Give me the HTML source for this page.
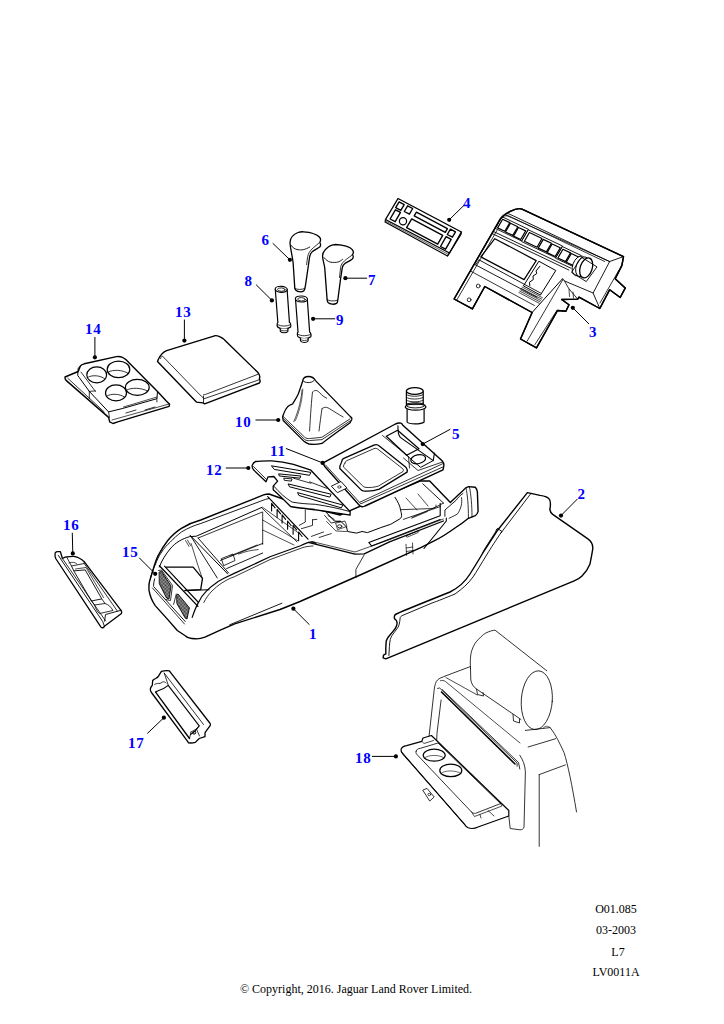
<!DOCTYPE html>
<html><head><meta charset="utf-8"><style>
html,body{margin:0;padding:0;background:#fff;width:724px;height:1024px;overflow:hidden}
svg{position:absolute;left:0;top:0}
.n{font-family:"Liberation Serif",serif;font-weight:bold;font-size:15px;fill:#0000ff;letter-spacing:0.8px}
.f{font-family:"Liberation Serif",serif;font-size:12px;fill:#000}
</style></head><body>
<svg width="724" height="1024" viewBox="0 0 724 1024" stroke-linejoin="round" stroke-linecap="round">
<defs><pattern id="hatch" width="1.4" height="1.4" patternUnits="userSpaceOnUse"><rect width="1.4" height="1.4" fill="#aaa"/><rect width="0.7" height="0.7" fill="#333"/><rect x="0.7" y="0.7" width="0.7" height="0.7" fill="#333"/></pattern></defs>
<path d="M398.0,198.5 L461.4,232.0 L449.5,253.0 L385.5,219.5 Z" fill="#fff" stroke="#000" stroke-width="1.4"/>
<path d="M385.5,219.5 L385.0,222.0 L447.5,256.0 L449.5,253.0" fill="none" stroke="#000" stroke-width="1.1"/>
<path d="M385.3,220.8 L448.5,254.5" fill="none" stroke="#000" stroke-width="0.6"/>
<path d="M461.4,232.0 L461.0,234.5 L447.5,256.0" fill="none" stroke="#000" stroke-width="1.1"/>
<path d="M399.1,201.9 L404.2,204.6 L400.8,210.4 L395.7,207.7 Z" fill="none" stroke="#000" stroke-width="1.35"/>
<path d="M407.6,205.8 L412.7,208.5 L409.4,214.2 L404.3,211.5 Z" fill="none" stroke="#000" stroke-width="1.35"/>
<path d="M395.4,209.8 L400.5,212.4 L395.2,221.7 L390.1,219.0 Z" fill="none" stroke="#000" stroke-width="1.35"/>
<ellipse cx="403.0" cy="221.2" rx="3.6" ry="3.6" transform="rotate(0 403.0 221.2)" fill="none" stroke="#000" stroke-width="1.2"/>
<path d="M416.4,212.1 L447.4,228.6 L445.3,232.4 L414.2,215.9 Z" fill="none" stroke="#000" stroke-width="1.35"/>
<path d="M411.7,218.9 L442.7,235.4 L437.7,244.2 L406.6,227.7 Z" fill="none" stroke="#000" stroke-width="1.35"/>
<path d="M450.4,229.1 L455.5,231.8 L452.4,237.2 L447.3,234.5 Z" fill="none" stroke="#000" stroke-width="1.35"/>
<path d="M446.1,236.6 L451.2,239.3 L445.6,249.2 L440.5,246.5 Z" fill="none" stroke="#000" stroke-width="1.35"/>
<path d="M500.25,219.2 C503.25,214 516.6,206.6 522,209.2 L623.5,256.6 L621.9,265.4 L615.2,278.7 L625.2,288.1 L620.2,297.5 L609.7,289.7 L599.8,308.5 L579,297.2 L577.7,299.1 L561.6,299.5 L569,304.7 L565.9,311.2 L557.5,310.5 L536.5,347.9 L520.5,339 L532.1,312.5 L484.8,286.5 L472.4,308.9 L454.1,299 Z" fill="#fff" stroke="#000" stroke-width="1.4"/>
<clipPath id="c1"><path d="M500.25,219.2 C503.25,214 516.6,206.6 522,209.2 L623.5,256.6 L621.9,265.4 L615.2,278.7 L625.2,288.1 L620.2,297.5 L609.7,289.7 L599.8,308.5 L579,297.2 L577.7,299.1 L561.6,299.5 L569,304.7 L565.9,311.2 L557.5,310.5 L536.5,347.9 L520.5,339 L532.1,312.5 L484.8,286.5 L472.4,308.9 L454.1,299 Z"/></clipPath><g clip-path="url(#c1)">
<path d="M492.2,228.1 L499.6,217.3 L503.7,214.2 L508.1,213.6 L513.6,216.0 L609.3,261.5" fill="none" stroke="#000" stroke-width="0.9"/>
<path d="M494.0,229.0 L501.5,218.1 L504.4,216.0 L508.0,215.7 L512.6,217.7 L604.7,261.5" fill="none" stroke="#000" stroke-width="0.8"/>
<path d="M491.4,230.5 L570.9,268.2" fill="none" stroke="#000" stroke-width="0.9"/>
<path d="M489.3,232.2 L568.8,270.0" fill="none" stroke="#000" stroke-width="0.9"/>
<path d="M502.2,216.8 L528.4,229.3 L521.6,241.0 L495.5,228.5 Z" fill="none" stroke="#000" stroke-width="0.9"/>
<path d="M528.6,229.9 L562.5,246.0 L555.7,257.7 L521.8,241.6 Z" fill="none" stroke="#000" stroke-width="0.9"/>
<path d="M562.7,246.7 L581.2,255.5 L574.4,267.1 L555.9,258.4 Z" fill="none" stroke="#000" stroke-width="0.9"/>
<path d="M502.6,219.2 L509.8,222.6 L504.8,231.3 L497.6,227.9 Z" fill="none" stroke="#000" stroke-width="1.2"/>
<path d="M510.5,223.3 L517.8,226.8 L512.8,235.4 L505.5,232.0 Z" fill="none" stroke="#000" stroke-width="1.2"/>
<path d="M518.5,227.5 L525.7,230.9 L520.7,239.5 L513.5,236.1 Z" fill="none" stroke="#000" stroke-width="1.2"/>
<path d="M529.4,232.5 L542.0,238.5 L537.0,247.2 L524.4,241.2 Z" fill="none" stroke="#000" stroke-width="1.2"/>
<path d="M543.2,239.4 L551.4,243.3 L546.4,251.9 L538.2,248.1 Z" fill="none" stroke="#000" stroke-width="1.2"/>
<path d="M552.1,244.0 L560.2,247.8 L555.2,256.5 L547.1,252.6 Z" fill="none" stroke="#000" stroke-width="1.2"/>
<path d="M562.9,249.3 L570.5,252.9 L565.5,261.6 L557.9,258.0 Z" fill="none" stroke="#000" stroke-width="1.2"/>
<path d="M571.3,253.5 L579.0,257.2 L574.0,265.9 L566.3,262.2 Z" fill="none" stroke="#000" stroke-width="1.2"/>
<path d="M494.8,238.7 L536.2,260.6 L524.1,279.6 L480.8,256.9 Z" fill="none" stroke="#000" stroke-width="1.2"/>
<path d="M479.1,259.9 L540.5,293.0" fill="none" stroke="#000" stroke-width="0.9"/>
<path d="M475.6,264.9 L536.9,297.3" fill="none" stroke="#000" stroke-width="0.9"/>
<path d="M479.1,259.9 L475.6,264.9" fill="none" stroke="#000" stroke-width="0.9"/>
<path d="M466.0,268.6 L534.4,305.5" fill="none" stroke="#000" stroke-width="0.8"/>
<path d="M539.2,261.4 L555.8,270.5 L540.4,295.1 L523.8,286.1 Z" fill="none" stroke="#000" stroke-width="1.0"/>
<path d="M539.9,266.2 L536.0,271.0 L536.8,273.5 L533.0,276.1 L533.3,279.6 L529.5,282.2 L529.8,285.7" fill="none" stroke="#000" stroke-width="1.0"/>
<path d="M522.1,287.0 L542.4,297.7" fill="none" stroke="#000" stroke-width="0.7"/>
<path d="M521.3,288.4 L541.6,299.1" fill="none" stroke="#000" stroke-width="0.7"/>
<path d="M520.5,289.8 L540.8,300.5" fill="none" stroke="#000" stroke-width="0.7"/>
<path d="M519.7,291.1 L540.0,301.9" fill="none" stroke="#000" stroke-width="0.7"/>
<path d="M518.9,292.5 L539.2,303.3" fill="none" stroke="#000" stroke-width="0.7"/>
<path d="M497.0,230.4 L457.0,299.7" fill="none" stroke="#000" stroke-width="0.8"/>
<ellipse cx="478.2" cy="286" rx="1.9" ry="1.9" transform="rotate(0 478.2 286)" fill="none" stroke="#000" stroke-width="0.8"/>
<ellipse cx="469.1" cy="299.8" rx="1.9" ry="1.9" transform="rotate(0 469.1 299.8)" fill="none" stroke="#000" stroke-width="0.8"/>
<path d="M532.1,312.5 L562.5,278.8" fill="none" stroke="#000" stroke-width="1.0"/>
<path d="M527.1,341.2 L563.0,279.4" fill="none" stroke="#000" stroke-width="0.8"/>
<path d="M534.9,344.6 L557.0,310.3" fill="none" stroke="#000" stroke-width="0.8"/>
<path d="M562.5,278.8 L564.4,280.9 L593.1,293.0" fill="none" stroke="#000" stroke-width="0.9"/>
<path d="M564.4,280.9 L568.8,288.6 L577.7,299.1" fill="none" stroke="#000" stroke-width="0.8"/>
<path d="M569.0,289.0 L569.5,296.5" fill="none" stroke="#000" stroke-width="0.7"/>
<path d="M573.0,292.0 L573.5,298.0" fill="none" stroke="#000" stroke-width="0.7"/>
<ellipse cx="579" cy="266" rx="6.3" ry="10.3" transform="rotate(20 579 266)" fill="#fff" stroke="#000" stroke-width="0.9"/>
<ellipse cx="582.5" cy="266.8" rx="6.3" ry="10.3" transform="rotate(20 582.5 266.8)" fill="#fff" stroke="#000" stroke-width="0.9"/>
<ellipse cx="586.2" cy="267.9" rx="6" ry="10.3" transform="rotate(18 586.2 267.9)" fill="#fff" stroke="#000" stroke-width="1.3"/>
<path d="M581.8,257.4 L597.0,266.9 L586.2,281.6 L571.9,272.6 Z" fill="none" stroke="#000" stroke-width="0.9"/>
<path d="M623.5,256.6 L609.7,261.5 L593.1,293.0 L599.8,308.5" fill="none" stroke="#000" stroke-width="0.9"/>
<path d="M609.7,261.5 L505.5,215.0" fill="none" stroke="#000" stroke-width="0.8"/>
<path d="M619.0,270.0 L600.0,303.0" fill="none" stroke="#000" stroke-width="0.8"/>
</g>
<path d="M500.25,219.2 C503.25,214 516.6,206.6 522,209.2 L623.5,256.6 L621.9,265.4 L615.2,278.7 L625.2,288.1 L620.2,297.5 L609.7,289.7 L599.8,308.5 L579,297.2 L577.7,299.1 L561.6,299.5 L569,304.7 L565.9,311.2 L557.5,310.5 L536.5,347.9 L520.5,339 L532.1,312.5 L484.8,286.5 L472.4,308.9 L454.1,299 Z" fill="none" stroke="#000" stroke-width="1.4"/>
<path d="M290,242.5 C290,239 292,235 298,232.5 C300,231.8 302,231.7 303.5,231.8 C307,232 311,232.7 313.1,233.5 C316,234.5 318.5,235.8 319.4,237 C320.8,238.5 321,240.5 319.7,242.8 C320.8,243.5 321,245.5 319.7,247 C317,249 314,250 312.5,251.5 C310.5,253 310,255 309.6,257 L305.6,284.6 L304.9,288.1 C304.6,290.5 302.5,291.9 300.7,291.9 C298.5,291.9 296.6,291.2 295.5,290 C294.8,289 294.8,288.5 294.8,288.1 L293.1,262.5 C292.3,256 290.4,249 290,242.5 Z" fill="#fff" stroke="#000" stroke-width="1.3"/>
<path d="M291,245.3 C293,248 295,249.3 298,249.7 C301,250.2 305,250 309.7,247" fill="none" stroke="#000" stroke-width="0.9"/>
<path d="M318.7,243.2 C315,246.5 312,248.5 310.4,250.8 C308.5,253 307.6,256 307.3,259 L306.6,264.6" fill="none" stroke="#000" stroke-width="0.8"/>
<path d="M294.8,288.3 C297,289.8 302,290 304.9,288.3" fill="none" stroke="#000" stroke-width="0.8"/>
<path d="M322.6,256.6 C322.6,253.5 323.5,251.5 324.7,250.4 C327,247.5 330,245.5 333,244.8 C334,244.6 335,244.5 335.7,244.5 C339,244.7 343,245.2 346.1,246.2 C349,247.2 351.3,248.4 352.3,249.7 C353.5,251 353.6,253.2 352.3,254.8 C353.5,255.5 353.6,257.5 352.3,259 C350,261 347,262 345.4,263.1 C343.5,264.5 342.6,266 342.3,267.6 L340.6,278.7 L337.8,300.1 C337.6,302 337.3,303 336.5,303.4 C335,304.2 333.5,304.3 332.3,304.2 C330.5,304 328.8,303.3 328.1,302.5 C327.3,301.5 327.1,300.5 327.1,299.4 L324.7,267.6 C324,263 322.6,259.5 322.6,256.6 Z" fill="#fff" stroke="#000" stroke-width="1.3"/>
<path d="M324,257.6 C326,260 328,261.5 330.2,262.1 C333,262.6 336,262.5 337.8,262.1 C339.5,261.6 341.3,260.5 342.6,259.3" fill="none" stroke="#000" stroke-width="0.9"/>
<path d="M351.6,255.5 C348,258 345,260 342.6,262.8 C341.3,264.5 340.8,266 340.6,267.6 L339.5,277.6" fill="none" stroke="#000" stroke-width="0.8"/>
<path d="M327.2,299.6 C329,301.2 334,301.5 337.6,300.2" fill="none" stroke="#000" stroke-width="0.8"/>
<path d="M275.3,289.3 L277.9,323.3" fill="none" stroke="#000" stroke-width="1.2"/>
<path d="M287.1,289.3 L289.5,323.3" fill="none" stroke="#000" stroke-width="1.2"/>
<ellipse cx="281.2" cy="289.3" rx="6.0" ry="3.0" transform="rotate(3 281.2 289.3)" fill="#fff" stroke="#000" stroke-width="1.2"/>
<ellipse cx="281.3" cy="289.6" rx="3.8" ry="1.7" transform="rotate(3 281.3 289.6)" fill="none" stroke="#000" stroke-width="0.8"/>
<path d="M277.3,323 C277,324.5 277.2,326.5 277.7,327 C280,329.4 288,329.4 290.6,327 C291,326 290.8,324.2 290.2,323" fill="#fff" stroke="#000" stroke-width="1.2"/>
<path d="M277.5,324.5 C281,326.6 287,326.6 290.6,324.5" fill="none" stroke="#000" stroke-width="0.8"/>
<path d="M280.2,328.6 L280.3,331.3 C282,333.2 286.5,333.2 287.9,331.3 L287.9,328.6" fill="#fff" stroke="#000" stroke-width="1.1"/>
<path d="M280.3,330 C282.5,331.2 286,331.2 287.9,330" fill="none" stroke="#000" stroke-width="0.7"/>
<path d="M295.5,299.0 L298.1,333.0" fill="none" stroke="#000" stroke-width="1.2"/>
<path d="M307.3,299.0 L309.7,333.0" fill="none" stroke="#000" stroke-width="1.2"/>
<ellipse cx="301.4" cy="299.0" rx="6.0" ry="3.0" transform="rotate(3 301.4 299.0)" fill="#fff" stroke="#000" stroke-width="1.2"/>
<ellipse cx="301.5" cy="299.3" rx="3.8" ry="1.7" transform="rotate(3 301.5 299.3)" fill="none" stroke="#000" stroke-width="0.8"/>
<path d="M297.5,332.7 C297.2,334.2 297.4,336.2 297.9,336.7 C300.2,339.09999999999997 308.2,339.09999999999997 310.8,336.7 C311.2,335.7 311.0,333.9 310.4,332.7" fill="#fff" stroke="#000" stroke-width="1.2"/>
<path d="M297.7,334.2 C301.2,336.3 307.2,336.3 310.8,334.2" fill="none" stroke="#000" stroke-width="0.8"/>
<path d="M300.4,338.3 L300.5,341.0 C302.2,342.9 306.7,342.9 308.09999999999997,341.0 L308.09999999999997,338.3" fill="#fff" stroke="#000" stroke-width="1.1"/>
<path d="M300.5,339.7 C302.7,340.9 306.2,340.9 308.09999999999997,339.7" fill="none" stroke="#000" stroke-width="0.7"/>
<path d="M157.5,361.5 L158.3,359.5 C160,356 163,352 166.6,350.7 L214.6,335.8 C217,335.2 222,337 224.6,339.9 L257.7,372.3 C259.5,374.5 260.5,376.5 259.4,378.5 L260.2,381.4 L259.4,383 L204.7,403.8 L203,402.9 L196.4,402.1 Z" fill="#fff" stroke="#000" stroke-width="1.4"/>
<path d="M160.5,358.5 C161,357 162,356 162.4,356 L201.4,396.3 L203.5,398" fill="none" stroke="#000" stroke-width="0.8"/>
<path d="M203.5,396 L203.5,402.5" fill="none" stroke="#000" stroke-width="0.8"/>
<path d="M203.5,394.8 C205,394.5 206,394.2 207.2,393.8 L257.7,374.4" fill="none" stroke="#000" stroke-width="0.8"/>
<path d="M203.9,398.8 L259.4,379.7" fill="none" stroke="#000" stroke-width="0.8"/>
<path d="M65,377 L78.2,371.5 L80.4,366 C81,365 82.5,364.3 84.3,363.8 L116.4,356.6 C118.5,356.3 120.5,356.5 121.9,357.2 C123.5,358 125,359 126.3,359.9 L157.5,391.5 L166.3,400.9 L169.6,404.2 L169.1,406.4 L117.7,421.9 L113,423.5 L109.7,421.8 L108.6,417.4 L66.1,380.4 C65.2,379.5 64.8,378.2 65,377 Z" fill="#fff" stroke="#000" stroke-width="1.4"/>
<path d="M80.4,366 L78.2,368.2 L77.7,375.4 L79.3,377.6 L89.3,391.4 L108.6,411.9 L122.1,408.6 L156.9,398.7 L157.5,391.5" fill="none" stroke="#000" stroke-width="1.0"/>
<path d="M67.7,378.2 L104.2,411.9" fill="none" stroke="#000" stroke-width="0.8"/>
<path d="M81,372.1 L95.4,391.4" fill="none" stroke="#000" stroke-width="0.8"/>
<path d="M89.3,391.4 L95.4,390.9" fill="none" stroke="#000" stroke-width="0.8"/>
<path d="M89.3,391.4 L89.3,398.6" fill="none" stroke="#000" stroke-width="0.8"/>
<path d="M108.6,411.9 L109.4,417.5" fill="none" stroke="#000" stroke-width="0.8"/>
<path d="M123.5,407 L157,397" fill="none" stroke="#000" stroke-width="0.7"/>
<path d="M112,420 L169,404" fill="none" stroke="#000" stroke-width="0.7"/>
<path d="M156.9,398.7 L156.9,402" fill="none" stroke="#000" stroke-width="0.8"/>
<path d="M126,413 L136,410 M145,410 L155,407" fill="none" stroke="#000" stroke-width="0.8"/>
<ellipse cx="96.7" cy="374.9" rx="9.9" ry="8.0" transform="rotate(0 96.7 374.9)" fill="none" stroke="#000" stroke-width="1.2"/>
<ellipse cx="118.5" cy="369.4" rx="11.3" ry="8.2" transform="rotate(0 118.5 369.4)" fill="none" stroke="#000" stroke-width="1.2"/>
<ellipse cx="116" cy="392.9" rx="10.5" ry="8.0" transform="rotate(0 116 392.9)" fill="none" stroke="#000" stroke-width="1.2"/>
<ellipse cx="137.3" cy="387.4" rx="11.9" ry="8.0" transform="rotate(0 137.3 387.4)" fill="none" stroke="#000" stroke-width="1.2"/>
<path d="M88.5,377 C92,375 100,375 105,379" fill="none" stroke="#000" stroke-width="0.8"/>
<path d="M108.5,372 C113,369.5 122,369.5 128.5,373.5" fill="none" stroke="#000" stroke-width="0.8"/>
<path d="M107,396 C111,393.5 119,393.5 124.5,397" fill="none" stroke="#000" stroke-width="0.8"/>
<path d="M127,390 C131,387.5 141,387.5 147.5,391" fill="none" stroke="#000" stroke-width="0.8"/>
<path d="M302.6,381.2 C303,378 305.5,376.5 308.5,376.5 C311.5,376.5 314,378 315.5,380.6 L350.1,416.4 C351.8,417.5 352.2,418.5 351.9,419.3 L350.1,422.8 C340,430 330,437 322,443.4 C318,444.3 312,444.5 309,444 C307,443.5 305.5,442.7 304.3,441.6 L283.2,420.5 L282.6,417 C283,415.5 283.3,414.5 283.8,413.4 C285,410 286.5,408 287.9,406.4 C290,404.5 291.5,404.5 292.6,404 C295,400 297,397 298.5,393.5 C300,389 301.5,385 302.6,381.2 Z" fill="#fff" stroke="#000" stroke-width="1.3"/>
<path d="M303.2,381 C305,383 311,383.5 313.7,380.8" fill="none" stroke="#000" stroke-width="0.9"/>
<path d="M283.2,416.5 L304.5,437 C306,438.5 308,438.8 309.5,438.5 C312,438.3 318,437.8 322,437.2 L350.1,418.8" fill="none" stroke="#000" stroke-width="0.8"/>
<path d="M283.4,418.6 L304.4,439.3 C306,440.6 308,440.8 309.5,440.6 L322,439.6 L350.3,420.8" fill="none" stroke="#000" stroke-width="0.8"/>
<path d="M313.7,391.1 C316,389.5 318,391 320,393 C322,395.5 324,397 326.7,398.2" fill="none" stroke="#000" stroke-width="0.8"/>
<path d="M312.5,392 C311.5,400 310.5,415 309.6,431" fill="none" stroke="#000" stroke-width="0.8"/>
<path d="M322,408.7 C324.5,406.5 327,407 330,409 C334,411.5 338,414 343.1,417" fill="none" stroke="#000" stroke-width="0.8"/>
<path d="M322,408.7 C321,415 320,423 319,431" fill="none" stroke="#000" stroke-width="0.8"/>
<path d="M302,390 C301.5,398 299,410 293.8,421.7" fill="none" stroke="#000" stroke-width="0.7"/>
<path d="M302.8,389 C302.5,397 300.5,409 295.5,420.5" fill="none" stroke="#000" stroke-width="0.6"/>
<path d="M195.2,638.8 C190,638.5 187,637.5 185.6,636 L177.3,630.5 L167.6,619.4 L155.2,605.6 C152,601 150,596 149,590.4 C148.8,586 149,583 149.7,580.8 L153.1,569.7 C155,563 156,560 158,555.9 C162,548 165,544 167.6,540.7 C173,534 177,531 181.4,528.3 C190,523 195,521.5 200.8,520 L263.6,494.9 C265.5,494.2 267.5,494 269,494 L300,505 L340,515 L363,505 L420,481 L429.7,481 L450.4,502.5 C455,498 459,494 462.9,490.7 C464.5,488.5 466.5,487 468.4,486.6 L475.3,487.3 C476.5,488.5 477.2,490 477.4,492.1 L478.1,511.4 C477.5,513.5 476.5,515 475.3,515.6 L468.4,518.3 C464,522 460,525 455,528 C448,533 441,537.5 435.1,540.4 C430,543 425,545.5 421.3,547.3 L362.4,574 L300,601.5 L280,609.5 L234.7,623.9 L221.4,629.7 L204.9,637.2 C200,639 197.5,639 195.2,638.8 Z" fill="#fff" stroke="#000" stroke-width="1.4"/>
<path d="M150.5,578 C152,572 154,567 155.2,565 C157,560 159,556 160.7,553.5 C164,548 167,545 170.4,542 C174,538 177,535.5 181.4,532 C188,528 194,525.5 200.8,523.5 L265.4,499.4 L269,498.5" fill="none" stroke="#000" stroke-width="0.9"/>
<path d="M159.3,567 C162,560 166,554 170,549 C176,542 182,539 189.7,536.6 L196.3,536.2 L261.8,507.4" fill="none" stroke="#000" stroke-width="1.0"/>
<path d="M198.1,538 L262.7,511.9 L262.7,544.3" fill="none" stroke="#000" stroke-width="0.8"/>
<path d="M159.4,565.7 L198,606.4" fill="none" stroke="#000" stroke-width="1.3"/>
<path d="M164.5,566.2 L198.5,602.5" fill="none" stroke="#000" stroke-width="1.1"/>
<path d="M154.6,578.8 C154,581 153.6,583.5 153.5,585.7 L153.5,586.4 L185.3,621.6" fill="none" stroke="#000" stroke-width="0.9"/>
<path d="M152.5,588 L184.5,624" fill="none" stroke="#000" stroke-width="0.8"/>
<path d="M159.5,572 L161.5,571.5 L171,586 L169,599 L166.5,598 L159.5,584 Z" fill="url(#hatch)" stroke="#000" stroke-width="0.9"/>
<path d="M177,594.7 L178,594 L189.4,607.8 L187,619 L185.3,618.2 L177,603.7 Z" fill="url(#hatch)" stroke="#000" stroke-width="0.9"/>
<path d="M158.5,570.5 L161.5,570 L172.5,585.5 L170.5,600.5 L165.5,599.5" fill="none" stroke="#000" stroke-width="0.8"/>
<path d="M176.3,594 L173.6,604.4" fill="none" stroke="#000" stroke-width="0.8"/>
<path d="M192.2,617.4 C195,609 197,605 198.8,601.9 C201,597 204,593.5 206.6,590.9 C209,588.5 211.5,586 214.8,584 C217.5,581.8 220.5,580 223.5,578.5 L234.2,573.4 L270,556.8 L300.5,545.8 C304,544 308,542 312.1,541.9 C314,542 315,542.5 316,543.9" fill="none" stroke="#000" stroke-width="1.2"/>
<path d="M203.8,602.5 C206,598 209,594 212.1,590.9 C215,588 218,585.5 221,583.5 C225,581 229,578.5 234.2,576.8 L270,559.6 L301.5,548 C305,546.8 309,546 313,546" fill="none" stroke="#000" stroke-width="0.8"/>
<path d="M364.2,554.9 L355.9,569.4 L355.9,577.5" fill="none" stroke="#000" stroke-width="0.8"/>
<path d="M229.7,624.8 L281.9,603.2" fill="none" stroke="#000" stroke-width="0.9"/>
<path d="M166.2,567.1 L193.1,567.1 L202.5,578.3 L200.7,589.6 L185,590.5" fill="none" stroke="#000" stroke-width="1.3"/>
<path d="M185,590.5 L209,589.8" fill="none" stroke="#000" stroke-width="1.1"/>
<path d="M191.1,536.6 L217.3,578" fill="none" stroke="#000" stroke-width="0.9"/>
<path d="M190,535.2 L227.6,573.8" fill="none" stroke="#000" stroke-width="1.0"/>
<path d="M191.1,543.5 L198,565.6 L202.2,578" fill="none" stroke="#000" stroke-width="0.7"/>
<path d="M185.6,540.5 L189,546.5 M187.5,540 L190.5,545.5" fill="none" stroke="#000" stroke-width="0.7"/>
<path d="M198.1,538 L228.6,573" fill="none" stroke="#000" stroke-width="0.9"/>
<path d="M220.5,560.4 L262.7,543.4" fill="none" stroke="#000" stroke-width="0.9"/>
<path d="M221.7,558.5 L233,554 L235,560.5 L224,565.5 Z" fill="none" stroke="#000" stroke-width="0.8"/>
<path d="M226.6,568.6 L258.1,555 L262.7,553" fill="none" stroke="#000" stroke-width="0.9"/>
<path d="M238.5,554.1 C245,551.5 252,550 258.2,549.6" fill="none" stroke="#000" stroke-width="0.7"/>
<path d="M230,556 L257,545" fill="none" stroke="#000" stroke-width="0.7"/>
<path d="M262.7,520 L297.7,540.7 M262.7,530 L294,545 M262.7,507.4 L300,534" fill="none" stroke="#000" stroke-width="0.7"/>
<path d="M267.7,496.6 L308,539.2" fill="none" stroke="#000" stroke-width="1.2"/>
<path d="M261.6,507.7 L297,541.9" fill="none" stroke="#000" stroke-width="0.8"/>
<path d="M271.6,511 L271.6,503.3 L275.1,507.8" fill="none" stroke="#000" stroke-width="1.1"/>
<path d="M277.1,517.6 L277.1,509.3 L280.6,513.8" fill="none" stroke="#000" stroke-width="1.1"/>
<path d="M282.1,523.1 L282.1,514.9 L285.6,519.4" fill="none" stroke="#000" stroke-width="1.1"/>
<path d="M287.6,529.2 L287.6,521 L291.1,525.5" fill="none" stroke="#000" stroke-width="1.1"/>
<path d="M293.1,534.2 L293.1,525.4 L296.6,529.9" fill="none" stroke="#000" stroke-width="1.1"/>
<path d="M298.6,540.8 L298.6,532 L302.1,536.5" fill="none" stroke="#000" stroke-width="1.1"/>
<path d="M305.3,509.9 L305.3,522 L299.2,525.4" fill="none" stroke="#000" stroke-width="0.8"/>
<path d="M312.5,519.8 L316.9,519.3 M312.5,519.8 L312.5,525.4 L301.4,528.7" fill="none" stroke="#000" stroke-width="0.8"/>
<path d="M311.4,536.4 L323.5,532 M319.1,537.5 L331.2,533.6" fill="none" stroke="#000" stroke-width="0.8"/>
<path d="M324.6,515.4 L331.2,523.1 L340,521" fill="none" stroke="#000" stroke-width="0.8"/>
<path d="M395,497.3 C398,502 400,506 400.5,509.7 C401.5,514 402.5,517 400,518.8 L390.7,524.3 L380.8,527.6 L367.5,532.6 L362,531.5 L356.5,533.1 L347.6,531.5 L346.5,527 L341,521.5 L334.4,521 L325.5,511.6" fill="none" stroke="#000" stroke-width="1.0"/>
<path d="M326.6,521.5 L331,526 L336,531 L346.5,531.5" fill="none" stroke="#000" stroke-width="0.7"/>
<path d="M400.5,509.7 L433,508.5 L443.5,503.1" fill="none" stroke="#000" stroke-width="0.8"/>
<path d="M403.3,519.4 L440.5,506.5" fill="none" stroke="#000" stroke-width="0.8"/>
<path d="M406,498 L417,510 M418,494 L428,506" fill="none" stroke="#000" stroke-width="0.7"/>
<path d="M334.2,519.4 L328,515.5" fill="none" stroke="#000" stroke-width="0.8"/>
<ellipse cx="339.7" cy="526.3" rx="2.2" ry="1.5" transform="rotate(0 339.7 526.3)" fill="none" stroke="#000" stroke-width="0.8"/>
<path d="M336,523 L345,521 L347,526.5 L338,529.5 Z" fill="none" stroke="#000" stroke-width="0.7"/>
<path d="M440.2,503.3 L440.2,515.7 L368.8,542.5 L371.6,545.9 L440.2,519.5" fill="none" stroke="#000" stroke-width="1.1"/>
<path d="M412.2,517.4 L436,506.8 L436,505" fill="none" stroke="#000" stroke-width="0.7"/>
<path d="M411.6,518.2 L427.3,511.6" fill="none" stroke="#000" stroke-width="0.7"/>
<path d="M406.8,535.6 L417.8,530.7 C419,530.5 419,532 418.2,532.5 L407.5,537 C406.2,537.3 405.8,536 406.8,535.6 Z" fill="none" stroke="#000" stroke-width="0.7"/>
<path d="M308.3,542.4 L355,554.2 L364.2,553.8 L389.5,541.8 L443.4,521" fill="none" stroke="#000" stroke-width="1.3"/>
<path d="M312,541.5 L355,552 L389.5,539.7 L443.4,519" fill="none" stroke="#000" stroke-width="0.7"/>
<path d="M424,548.5 L446.3,521 L446.3,518" fill="none" stroke="#000" stroke-width="1.1"/>
<path d="M406,544.3 L406.5,555.3 M412.5,543 L413,554 M406.3,548 L412.7,547 M406.4,551.5 L412.9,550.5" fill="none" stroke="#000" stroke-width="0.7"/>
<path d="M422.8,483.8 L443.5,503.1" fill="none" stroke="#000" stroke-width="0.9"/>
<path d="M462.9,493.5 C460,495.5 458,497.5 456,500.4 L444.9,510 L444.9,516.3" fill="none" stroke="#000" stroke-width="0.9"/>
<path d="M461.5,497.6 C462.5,503 461,509 457.3,514.2 L449.1,518.3" fill="none" stroke="#000" stroke-width="0.8"/>
<path d="M466,488 C467.5,495 468.5,505 468.4,518" fill="none" stroke="#000" stroke-width="0.8"/>
<path d="M469.5,487 C471,495 472,505 472,517" fill="none" stroke="#000" stroke-width="0.8"/>
<path d="M252.2,465.2 C253,463 254,462 255.8,461.5 C260,460.8 265,460.7 271.8,460.8 C280,461.5 287,462.8 293.5,464.4 L310.9,470.2 L350.1,511.6 L350.1,515.2 C340,513.5 320,510 305,508.5 C298,507.8 294,507.3 290.6,506.5 C284,500 278,494 273.2,489.8 L273.2,486.2 L277.6,481.1 L273.9,476.5 L268.1,476.8 L266,481.8 L253.5,469.8 C252.5,468.5 252,467 252.2,465.2 Z" fill="#fff" stroke="#000" stroke-width="1.3"/>
<path d="M253.5,466.5 L266.5,479.5" fill="none" stroke="#000" stroke-width="0.8"/>
<path d="M273.9,486.2 C279,492 285,498 292.1,502.1 C300,503.5 308,504 315.3,504.3 C327,506 339,508.5 350.1,511.6" fill="none" stroke="#000" stroke-width="0.9"/>
<path d="M271.8,465.9 L310.9,472.4 L309.5,475.3 L274.7,469.5 Z" fill="none" stroke="#000" stroke-width="1.0"/>
<path d="M279,473.9 L300.8,476 L300,478.2 L279.7,476 Z" fill="none" stroke="#000" stroke-width="1.0"/>
<path d="M284.1,478.2 L292.1,478.9 L291.3,481.1 L284.8,480.4 Z" fill="none" stroke="#000" stroke-width="0.9"/>
<path d="M293.5,478.2 L310.9,483.3" fill="none" stroke="#000" stroke-width="0.8"/>
<path d="M288.4,484 L331.2,494.2 L329.8,497.1 L289.9,486.9 Z" fill="none" stroke="#000" stroke-width="1.0"/>
<path d="M309.5,481.8 L326.9,488.4" fill="none" stroke="#000" stroke-width="0.8"/>
<path d="M297.9,492.7 L342.8,505 L341.4,507.9 L299.3,495.6 Z" fill="none" stroke="#000" stroke-width="1.0"/>
<path d="M407.1,409.6 L407.1,422 C409,424.5 421,424.5 424.1,422 L424.1,409.6" fill="#fff" stroke="#000" stroke-width="1.2"/>
<ellipse cx="415.6" cy="407" rx="10.3" ry="3.2" transform="rotate(0 415.6 407)" fill="#fff" stroke="#000" stroke-width="1.2"/>
<ellipse cx="415.6" cy="405.3" rx="9.3" ry="2.6" transform="rotate(0 415.6 405.3)" fill="none" stroke="#000" stroke-width="0.9"/>
<path d="M406.4,391 L406.4,404.6 M423.2,391 L423.2,404.6" fill="none" stroke="#000" stroke-width="1.2"/>
<path d="M406.4,394.5 C409,396.9 420,396.9 423.2,394.5" fill="none" stroke="#000" stroke-width="0.8"/>
<path d="M406.4,397.3 C409,399.7 420,399.7 423.2,397.3" fill="none" stroke="#000" stroke-width="0.8"/>
<path d="M406.4,400.1 C409,402.5 420,402.5 423.2,400.1" fill="none" stroke="#000" stroke-width="0.8"/>
<path d="M406.4,402.9 C409,405.29999999999995 420,405.29999999999995 423.2,402.9" fill="none" stroke="#000" stroke-width="0.8"/>
<ellipse cx="414.8" cy="391" rx="8.4" ry="3.4" transform="rotate(0 414.8 391)" fill="#fff" stroke="#000" stroke-width="1.2"/>
<path d="M323.6,462.6 L395.4,424 C397,423.2 399,422.9 400.8,423.1 C401.7,423.4 402.2,424 402.6,424.9 L442.1,460.8 C443.5,462.5 444.2,464 443.9,465.3 L443,469.8 L365,506 C363.5,506.8 361.5,506.8 360.2,506.2 L324.5,466.2 C323.8,465 323.5,463.8 323.6,462.6 Z" fill="#fff" stroke="#000" stroke-width="1.4"/>
<path d="M325.5,465 L360.8,503.8 L443.3,466.8" fill="none" stroke="#000" stroke-width="0.8"/>
<path d="M360.3,502 L442.5,463.8" fill="none" stroke="#000" stroke-width="0.8"/>
<path d="M341.5,462.2 C342,460 342.5,459 343.3,458.6 L373.9,445.1 C376,444.3 378,444.8 379.3,446 L406.2,467.6 C407.3,469 407.5,470.5 407.1,472.1 L379.3,489.1 C374,491 368,491.5 363.1,490.9 C362,490.5 361,489.8 360.4,489.1 L339.8,468.5 C339.5,466 340.5,464 341.5,462.2 Z" fill="none" stroke="#000" stroke-width="1.3"/>
<path d="M345,463 C345.3,461.5 346,461 347,460.6 L374,448.6 C375.5,448 377,448.4 378,449.3 L402.8,468.8 C403.5,469.8 403.6,470.8 403,471.5 L378.5,486 C374,487.5 369,487.8 365,487.3 C364,487 363.3,486.5 362.8,486 L343.5,467 C343.5,465.5 344,464 345,463 Z" fill="none" stroke="#000" stroke-width="0.8"/>
<path d="M382.5,435.5 L408.5,456.5 L409.5,468" fill="none" stroke="#000" stroke-width="0.8"/>
<path d="M386.3,436.2 L397.6,430.3 L419,448.8 L406.6,455.3 Z" fill="none" stroke="#000" stroke-width="1.2"/>
<path d="M397.9,425.8 C398,429 398.2,432 398.4,433.5 C399,435 399.5,436 400.3,437.4 L433.2,460.6 L434.5,453" fill="none" stroke="#000" stroke-width="1.1"/>
<path d="M406.6,455.3 L420.6,467.4 L433.2,460.6" fill="none" stroke="#000" stroke-width="1.0"/>
<path d="M403.5,458 L418,470.5 L442.5,462" fill="none" stroke="#000" stroke-width="0.8"/>
<ellipse cx="418.2" cy="459.2" rx="7.5" ry="4.4" transform="rotate(-12 418.2 459.2)" fill="none" stroke="#000" stroke-width="1.2"/>
<path d="M331.7,486 L341,481.5 L347,488 L337.7,492.5 Z" fill="#fff" stroke="#000" stroke-width="0.9"/>
<ellipse cx="339.3" cy="487" rx="1.6" ry="1.2" transform="rotate(0 339.3 487)" fill="none" stroke="#000" stroke-width="0.7"/>
<path d="M527.4,492.6 L540,495.4 C545,496 548,497 549.5,499.5 C551,502 550.5,506 549.8,509.5 C550.3,512 551.5,513.5 552.7,514.4 L587.9,538.9 C591,541 593,545 592.8,548.7 C592,554 591,559 589.9,564.3 C588,569 585,573 582,576 C580,578 577,579.7 574.2,580.9 L385.8,658.8 L383.1,657.9 L383.5,655.2 L385.8,653.9 L385.8,648.5 C385.9,645 386,643 386.2,641.3 C387,639 387.5,638 388.5,636.8 L393,631.4 C395,629 396,627.5 396.5,626 C397,624.5 397.2,623.5 397,622.4 C396.8,621.3 396.5,620.8 396.1,620.2 C395,619.3 394.3,618.8 394.3,618 C394.3,617 394.5,616 394.7,615.3 C395.5,614.3 396.5,613.8 397.4,613.5 L399.3,612.6 C415,606 435,598 450,592 C458,588 465,582 470,574 C475,566 480,558 484,551 L497,531 Z" fill="#fff" stroke="#000" stroke-width="1.4"/>
<path d="M530.5,494 L500.5,533.5 C494,543 489,551 486,556 C481,564 477,571 473,577 C468,584 462,589 455,594 C445,598 438,601 432,603 L401.9,615.7 C400.8,616.5 400.2,617.2 400.1,618 C400,619.5 399.9,620.5 399.7,621.5 C399.5,623.5 399,625.5 398.3,626.9 L393,634.1 C391.5,636 390.8,637.8 390.3,639.5 C389.8,642 389.5,644 389.4,646.7 L388.9,655.5" fill="none" stroke="#000" stroke-width="0.9"/>
<path d="M496,530 L497.5,528.5 L502,531.5 L500.5,533.5" fill="none" stroke="#000" stroke-width="0.9"/>
<path d="M497.5,528.5 C492,538 486,546 482.5,553" fill="none" stroke="#000" stroke-width="0.7"/>
<path d="M55.2,552.8 C55.8,552 56.7,551.7 57.8,551.7 L60.4,551.7 L62.4,558.5 C64,557.5 65,557 66.6,556.9 C69,556.5 71.5,556.3 73.8,556.4 C76,556.8 77.8,557.3 79,558 C81,559 82.8,560.2 84.2,561.6 L121,610.3 C121.7,611.3 121.9,612.3 121.5,613.4 L104.4,626.3 C103.8,627.3 103.3,627.7 102.8,627.9 C102,627.8 101.3,627.4 100.8,626.8 L55.7,558.5 C55,556.5 54.8,554.5 55.2,552.8 Z" fill="#fff" stroke="#000" stroke-width="1.3"/>
<path d="M58.3,555.4 L102.8,621.7 L104.4,626.3" fill="none" stroke="#000" stroke-width="0.9"/>
<path d="M62.4,558.5 L105.5,620.8" fill="none" stroke="#000" stroke-width="0.8"/>
<path d="M84.2,563.5 L117.3,611" fill="none" stroke="#000" stroke-width="0.8"/>
<path d="M104.6,621.2 L105.5,614.5 L121,610.3" fill="none" stroke="#000" stroke-width="0.9"/>
<path d="M66.6,556.9 L71.5,566 L84.2,563.5 L84.2,561.6" fill="none" stroke="#000" stroke-width="0.8"/>
<path d="M69,563 C72,561.8 75,562 77,564" fill="none" stroke="#000" stroke-width="0.7"/>
<path d="M71.5,566 L73.8,570.9 L85.2,569.9 L101.8,598.9 L91.4,601 L73.8,570.9" fill="none" stroke="#000" stroke-width="0.9"/>
<path d="M75.5,569 L86,567.5 L103.5,597.5" fill="none" stroke="#000" stroke-width="0.7"/>
<path d="M91.4,601 L94.5,605 L105,603.5 L101.8,598.9" fill="none" stroke="#000" stroke-width="0.8"/>
<path d="M94.5,605 C96,609.5 97.5,612 99.5,613.5 L113,610.5 C111,607 108.5,604.5 105,603.5" fill="none" stroke="#000" stroke-width="0.8"/>
<path d="M161.4,671.3 C164,670.7 166.5,670.6 169.2,670.8 L170.1,671.8 L209.8,723 C210.5,723.8 210.6,724.6 210.3,725.4 L205,732.7 L205,736.6 L199.2,738.5 L195.3,742.4 C193,743 190.5,743.1 188.5,742.9 L187.6,741.4 L151.8,693 C150.6,691.5 150.1,690.3 150.3,689.2 C150.5,687.8 151.2,686.5 152.3,685.3 L152.7,680.5 C153.5,679.5 154.5,679 155.6,678.5 C157,677.8 158,677 158.5,676.1 Z" fill="#fff" stroke="#000" stroke-width="1.3"/>
<path d="M155.6,692.1 C156.5,691.3 157,691.1 157.6,691.1 C161,690 165,688 168.2,685.3 L199.2,725.9 L195,731 L190.5,734.6" fill="none" stroke="#000" stroke-width="1.1"/>
<path d="M155.6,692.1 L189.5,738.5" fill="none" stroke="#000" stroke-width="1.3"/>
<path d="M164.3,673.2 L203.5,724.5" fill="none" stroke="#000" stroke-width="0.8"/>
<path d="M164.3,673.2 C166,677 166.5,681 168.2,685.3" fill="none" stroke="#000" stroke-width="0.8"/>
<path d="M154.7,684.3 C157,683.5 158.5,683 160,683.5 L162.5,682 C164,681.5 165,682 166,683" fill="none" stroke="#000" stroke-width="0.8"/>
<path d="M191,732 L196.5,729 L199.2,725.9 M189.5,738.5 L191,732 M196.5,729 L199.5,736" fill="none" stroke="#000" stroke-width="0.8"/>
<ellipse cx="194.3" cy="732.7" rx="1.6" ry="1.2" transform="rotate(-30 194.3 732.7)" fill="none" stroke="#000" stroke-width="0.9"/>
<path d="M470.5,668.4 C470,660 470.5,655 471.7,650.8 C473.5,645 476,641.5 478.7,639.1 C482,635.5 485,633 488.1,632 C491,630.8 493,630.3 495.1,630.2 L546.8,670.8" fill="none" stroke="#000" stroke-width="0.8"/>
<ellipse cx="536.8" cy="700.2" rx="15.5" ry="29.4" transform="rotate(4 536.8 700.2)" fill="#fff" stroke="#000" stroke-width="0.8"/>
<path d="M470.5,668.4 L470.8,680 C471.5,684 473.5,687 476.5,689 L521,719.5" fill="none" stroke="#000" stroke-width="0.8"/>
<path d="M476.5,689 L477.5,694.5 L483.5,696 L483,692.5 M513,714.5 L513.5,721 L519.5,723 L519.5,719.2" fill="none" stroke="#000" stroke-width="0.8"/>
<path d="M446,677.6 L477.3,695" fill="none" stroke="#000" stroke-width="0.7"/>
<path d="M470.5,666.5 L443.5,676.7 C440,678 437.5,679.5 436.4,681.4 C435,684 434.5,687 434.1,690.7 L429.4,733 L428.7,740" fill="none" stroke="#000" stroke-width="0.8"/>
<path d="M525.4,730.4 L550.2,727.6 C556,735 560,744 564,752.5 C568,765 572,785 576.5,811.9" fill="none" stroke="#000" stroke-width="0.8"/>
<path d="M528.1,747 L555.7,738.7 M539.2,774.6 L565.4,764.9" fill="none" stroke="#000" stroke-width="0.8"/>
<path d="M539.2,774.6 L539.2,846.4" fill="none" stroke="#000" stroke-width="0.8"/>
<path d="M550.2,727.6 C545,724 543,728.3 543.3,728.3" fill="none" stroke="#000" stroke-width="0.6"/>
<path d="M519.8,755.2 C523,760 525,765 525.4,771.8 L524,827.1 C523.5,829 522,829.8 519.8,829.8 L510.2,828.5 L508.8,816" fill="none" stroke="#000" stroke-width="0.8"/>
<path d="M441.1,700 L437,733.1 L436.5,745" fill="none" stroke="#000" stroke-width="0.8"/>
<path d="M437.6,688.4 L439.7,688 L517.1,763 L517.1,766.3" fill="none" stroke="#000" stroke-width="0.8"/>
<path d="M441.5,692 L515,764" fill="none" stroke="#000" stroke-width="1.6"/>
<path d="M442.3,689.6 L518.5,762.5 L519.8,769" fill="none" stroke="#000" stroke-width="0.8"/>
<path d="M440.4,680.7 C442,680 444,680.5 445.5,681.5 L520,743" fill="none" stroke="#000" stroke-width="0.7"/>
<path d="M401,749.7 C401.5,747.5 403.5,746 406.6,745.6 L421.8,741.4 L423,738 L431.4,735.5 L433.5,737.5 L508.8,810.5 L508.8,816 L478,827 C475,828.5 471,829 467.5,827.5 C466,826.5 465,825.5 464.6,824.3 L403,754 C401.5,752.5 401,751 401,749.7 Z" fill="#fff" stroke="#000" stroke-width="1.2"/>
<path d="M401.5,752 L465,825" fill="none" stroke="#000" stroke-width="0.8"/>
<path d="M421.8,741.4 L424,743.5 L433.5,740.5 M431.4,735.5 L433.5,737.5" fill="none" stroke="#000" stroke-width="0.7"/>
<path d="M416.2,751.1 C416.5,749.5 418,748.5 420.4,748.3 L438,743 L500.5,803.6 L475.6,813.3 C474,813.6 472.5,813 471.5,812 L416.5,754 C415.8,753 415.8,752 416.2,751.1 Z" fill="none" stroke="#000" stroke-width="0.8"/>
<path d="M471.5,812 L474.5,816.5 L502,806 L500.5,803.6 M480,814.5 L481,818 M488,810.5 L494,816" fill="none" stroke="#000" stroke-width="0.7"/>
<ellipse cx="434.2" cy="755.2" rx="11" ry="6" transform="rotate(0 434.2 755.2)" fill="#fff" stroke="#000" stroke-width="1.2"/>
<ellipse cx="450.8" cy="770.4" rx="11" ry="6.3" transform="rotate(0 450.8 770.4)" fill="#fff" stroke="#000" stroke-width="1.2"/>
<path d="M424.5,758 C428,754.5 440,754.5 444,758 M441,773.5 C444,770 456,770 461,773.5" fill="none" stroke="#000" stroke-width="0.6"/>
<path d="M423.1,790 L427,788.4 L434.2,797 L430,800.8 Z" fill="#fff" stroke="#000" stroke-width="0.8"/>
<ellipse cx="429.3" cy="794.5" rx="1.4" ry="1.2" transform="rotate(0 429.3 794.5)" fill="none" stroke="#000" stroke-width="0.7"/>
<text x="463" y="208.2" class="n">4</text>
<line x1="449.2" y1="219.8" x2="463.6" y2="205.7" stroke="#000" stroke-width="1.0"/>
<circle cx="449.2" cy="219.8" r="2.1" fill="#000"/>
<text x="261.5" y="245" class="n">6</text>
<line x1="273" y1="243.5" x2="289.9" y2="259.8" stroke="#000" stroke-width="1.0"/>
<circle cx="289.9" cy="259.8" r="2.1" fill="#000"/>
<text x="368" y="285" class="n">7</text>
<line x1="345.4" y1="278.2" x2="366.7" y2="278.2" stroke="#000" stroke-width="1.0"/>
<circle cx="345.4" cy="278.2" r="2.1" fill="#000"/>
<text x="244.5" y="286" class="n">8</text>
<line x1="256.4" y1="285" x2="271.9" y2="300.4" stroke="#000" stroke-width="1.0"/>
<circle cx="271.9" cy="300.4" r="2.1" fill="#000"/>
<text x="336" y="325" class="n">9</text>
<line x1="313.1" y1="318.8" x2="334.8" y2="318.8" stroke="#000" stroke-width="1.0"/>
<circle cx="313.1" cy="318.8" r="2.1" fill="#000"/>
<text x="589" y="337" class="n">3</text>
<line x1="572.8" y1="307.8" x2="588.7" y2="323.7" stroke="#000" stroke-width="1.0"/>
<circle cx="572.8" cy="307.8" r="2.1" fill="#000"/>
<text x="85" y="334.3" class="n">14</text>
<line x1="94.9" y1="337.3" x2="94.9" y2="357.3" stroke="#000" stroke-width="1.0"/>
<circle cx="94.9" cy="357.3" r="2.1" fill="#000"/>
<text x="175" y="317.3" class="n">13</text>
<line x1="184.4" y1="320" x2="184.4" y2="340.6" stroke="#000" stroke-width="1.0"/>
<circle cx="184.4" cy="340.6" r="2.1" fill="#000"/>
<text x="235" y="427" class="n">10</text>
<line x1="255.9" y1="420" x2="278.2" y2="420" stroke="#000" stroke-width="1.0"/>
<circle cx="278.2" cy="420" r="2.1" fill="#000"/>
<text x="452" y="439" class="n">5</text>
<line x1="450" y1="429.4" x2="422.7" y2="444.1" stroke="#000" stroke-width="1.0"/>
<circle cx="422.7" cy="444.1" r="2.1" fill="#000"/>
<text x="270" y="456" class="n">11</text>
<line x1="286.3" y1="448.6" x2="322.6" y2="462.9" stroke="#000" stroke-width="1.0"/>
<circle cx="322.6" cy="462.9" r="2.1" fill="#000"/>
<text x="206" y="475" class="n">12</text>
<line x1="226.2" y1="468" x2="248.3" y2="468" stroke="#000" stroke-width="1.0"/>
<circle cx="248.3" cy="468" r="2.1" fill="#000"/>
<text x="577.5" y="499" class="n">2</text>
<line x1="577.1" y1="499.3" x2="561" y2="515.6" stroke="#000" stroke-width="1.0"/>
<circle cx="561" cy="515.6" r="2.1" fill="#000"/>
<text x="63" y="530" class="n">16</text>
<line x1="72.3" y1="533.2" x2="72.8" y2="553.4" stroke="#000" stroke-width="1.0"/>
<circle cx="72.8" cy="553.4" r="2.1" fill="#000"/>
<text x="122" y="557" class="n">15</text>
<line x1="139.5" y1="558.1" x2="155.2" y2="573.8" stroke="#000" stroke-width="1.0"/>
<circle cx="155.2" cy="573.8" r="2.1" fill="#000"/>
<text x="309" y="639" class="n">1</text>
<line x1="293.4" y1="608.7" x2="309.2" y2="624.5" stroke="#000" stroke-width="1.0"/>
<circle cx="293.4" cy="608.7" r="2.1" fill="#000"/>
<text x="128" y="748" class="n">17</text>
<line x1="147.6" y1="733.2" x2="163.9" y2="717.7" stroke="#000" stroke-width="1.0"/>
<circle cx="163.9" cy="717.7" r="2.1" fill="#000"/>
<text x="355" y="763" class="n">18</text>
<line x1="372.4" y1="756.4" x2="395.9" y2="756.4" stroke="#000" stroke-width="1.0"/>
<circle cx="395.9" cy="756.4" r="2.1" fill="#000"/>
<text class="f" x="616" y="913" text-anchor="middle">O01.085</text>
<text class="f" x="616" y="934" text-anchor="middle">03-2003</text>
<text class="f" x="618" y="956" text-anchor="middle">L7</text>
<text class="f" x="616" y="976" text-anchor="middle">LV0011A</text>
<text class="f" x="240" y="993">© Copyright, 2016. Jaguar Land Rover Limited.</text>
</svg>
</body></html>
